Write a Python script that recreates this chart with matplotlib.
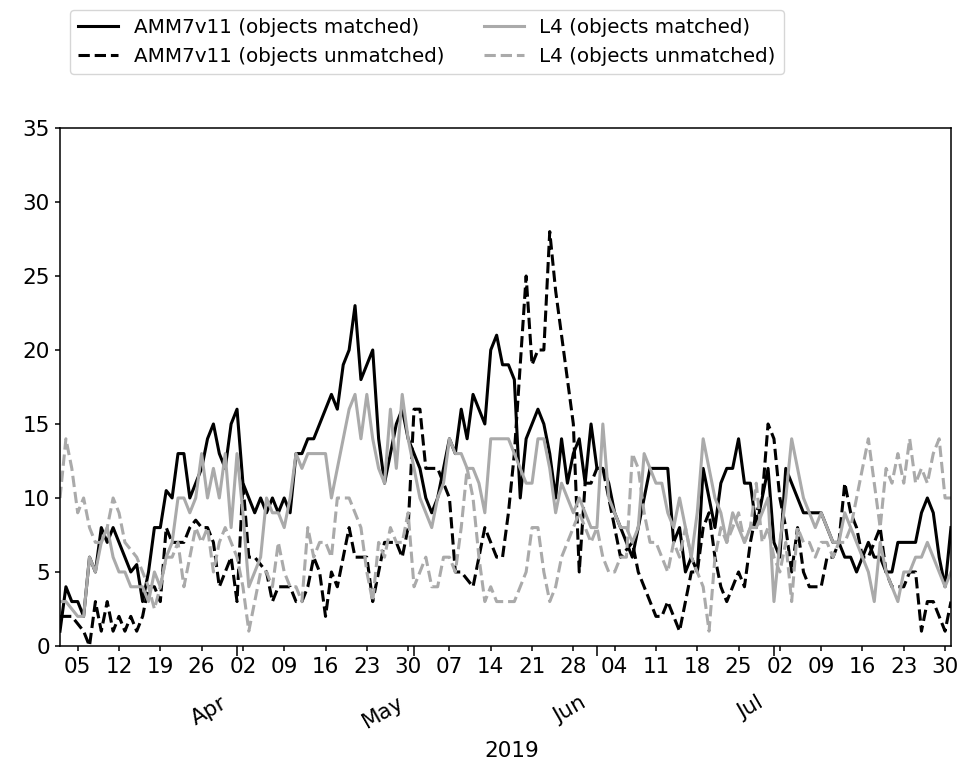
import matplotlib
matplotlib.use("Agg")
import matplotlib.pyplot as plt
import matplotlib.dates as mdates
import matplotlib.transforms as mtransforms
import numpy as np
import pandas as pd

# daily object counts, 2 Mar - 31 Jul 2019
dates = pd.date_range("2019-03-02", periods=152, freq="D")

amm_matched = [
    1, 4, 3, 3, 2, 6, 5, 8, 7, 8,
    7, 6, 5, 5.5, 3, 5, 8, 8, 10.5, 10,
    13, 13, 10, 11, 12, 14, 15, 13, 12, 15,
    16, 11, 10, 9, 10, 9, 10, 9, 10, 9,
    13, 13, 14, 14, 15, 16, 17, 16, 19, 20,
    23, 18, 19, 20, 14, 11, 13, 15, 16, 14,
    13, 12, 10, 9, 10, 12, 14, 13, 16, 14,
    17, 16, 15, 20, 21, 19, 19, 18, 10, 14,
    15, 16, 15, 13, 10, 14, 11, 13, 14, 11,
    15, 12, 12, 11, 9, 8, 7, 6, 8, 10,
    12, 12, 12, 12, 7, 8, 5, 6, 5, 12,
    10, 8, 11, 12, 12, 14, 11, 11, 8, 10,
    12, 7, 6, 12, 11, 10, 9, 9, 9, 9,
    8, 7, 7, 6, 6, 5, 6, 7, 6, 6,
    5, 5, 7, 7, 7, 7, 9, 10, 9, 6,
    4, 8,
]

amm_unmatched = [
    2, 2, 2, 1.5, 1, 0, 3, 1, 3, 1,
    2, 1, 2, 1, 2, 4, 4, 3, 8, 7,
    7, 7, 8, 8.5, 8, 8, 7, 4, 5, 6,
    3, 11, 6, 6, 5.5, 5, 3, 4, 4, 4,
    3, 3, 4, 6, 5, 2, 5, 4, 6, 8,
    6, 6, 6, 3, 5, 7, 7, 7, 6, 8,
    16, 16, 12, 12, 12, 11, 10, 5, 5, 4.5,
    4, 6, 8, 7, 6, 6, 9, 13, 19, 25,
    19, 20, 20, 28, 24, 21, 18, 15, 5, 11,
    11, 12, 12, 10, 8, 6, 6.5, 7, 5, 4,
    3, 2, 2, 3, 2, 1, 3, 5, 5, 8,
    9, 6, 4, 3, 4, 5, 4, 7, 9, 10,
    15, 14, 10, 8, 5, 8, 5, 4, 4, 4,
    6, 6, 7, 11, 9, 8, 6, 6, 7, 8,
    5, 4, 4, 4, 5, 5, 1, 3, 3, 2,
    1, 3,
]

l4_matched = [
    3, 3, 2.5, 2, 2, 6, 5, 7, 8, 6,
    5, 5, 4, 4, 4, 3, 5, 4, 6, 7,
    10, 10, 9, 10, 13, 10, 12, 10, 13, 8,
    13, 9, 4, 5, 6, 10, 9, 9, 8, 10,
    13, 12, 13, 13, 13, 13, 10, 12, 14, 16,
    17, 14, 17, 14, 12, 11, 16, 12, 17, 14,
    12, 10, 9, 8, 10, 11, 14, 13, 13, 12,
    12, 11, 9, 14, 14, 14, 14, 13, 12, 11,
    11, 14, 14, 12, 9, 11, 10, 9, 10, 9,
    8, 8, 15, 10, 9, 8, 8, 7, 8, 13,
    12, 11, 11, 9, 8, 10, 8, 6, 9, 14,
    12, 10, 9, 7, 9, 8, 7, 8, 8, 9,
    10, 3, 7, 10, 14, 12, 10, 9, 8, 9,
    8, 7, 7, 9, 8, 7, 6, 5, 3, 7,
    5, 4, 3, 5, 5, 6, 6, 7, 6, 5,
    4, 5,
]

l4_unmatched = [
    10, 14, 12, 9, 10, 8, 7, 7, 8, 10,
    9, 7, 6.5, 6, 5, 4, 2.5, 4, 6, 6,
    7, 4, 6, 8, 7, 8, 5, 7, 8, 7,
    6, 4, 1, 3, 5, 5, 4, 7, 5, 4,
    4, 3, 8, 6, 7, 7, 6, 10, 10, 10,
    9, 8, 5, 3, 7, 6, 8, 7, 7, 9,
    4, 5, 6, 4, 4, 6, 6, 5, 8, 12,
    10, 6, 3, 4, 3, 3, 3, 3, 4, 5,
    8, 8, 5, 3, 4, 6, 7, 8, 9, 8,
    7, 8, 6, 5, 5, 6, 6, 13, 12, 9,
    7, 7, 6, 5, 7, 6, 8, 6, 5, 4,
    1, 6, 8, 7, 8, 9, 7, 8, 11, 7,
    8, 6, 5, 7, 3, 8, 7, 7, 6, 7,
    7, 6, 7, 7, 8, 10, 12, 14, 11, 8,
    12, 11, 13, 11, 14, 11, 12, 11, 13, 14,
    10, 10,
]

grey = "#aaaaaa"
lw = 2.2

fig = plt.figure(figsize=(9.57, 7.67), dpi=100)
ax = fig.add_axes([0.0627, 0.1578, 0.931, 0.6753])

ax.plot(dates, amm_matched, color="k", lw=lw, label="AMM7v11 (objects matched)")
ax.plot(dates, amm_unmatched, color="k", lw=lw, ls="--", label="AMM7v11 (objects unmatched)")
ax.plot(dates, l4_matched, color=grey, lw=lw, label="L4 (objects matched)")
ax.plot(dates, l4_unmatched, color=grey, lw=lw, ls="--", label="L4 (objects unmatched)")

ax.set_xlim(dates[0], dates[-1])
ax.set_ylim(0, 35)
ax.set_yticks(np.arange(0, 36, 5))

ax.xaxis.set_major_locator(mdates.MonthLocator())
ax.xaxis.set_major_formatter(mdates.DateFormatter("%b"))
ax.xaxis.set_minor_locator(mdates.WeekdayLocator(byweekday=mdates.TU))
ax.xaxis.set_minor_formatter(mdates.DateFormatter("%d"))

ax.tick_params(axis="x", which="minor", length=3.8, width=1.1, pad=4.4, labelsize=15.5)
ax.tick_params(axis="x", which="major", length=7, width=1.1, pad=26.5, labelsize=15.5)
ax.tick_params(axis="y", length=3.8, width=1.1, labelsize=15.5)
for sp in ax.spines.values():
    sp.set_linewidth(1.1)

# month names slanted under the day numbers
shift = mtransforms.ScaledTranslation(-7 / 100, 0, fig.dpi_scale_trans)
for lab in ax.xaxis.get_majorticklabels():
    lab.set_rotation(30)
    lab.set_ha("right")
    lab.set_transform(lab.get_transform() + shift)

ax.set_xlabel("2019", fontsize=15.5)
ax.xaxis.set_label_coords(0.507, -0.183)

ax.legend(loc="upper left", bbox_to_anchor=(70 / 957, 1 - 10 / 767),
          bbox_transform=fig.transFigure, borderaxespad=0, ncol=2,
          fontsize=14.3, handlelength=2.0, columnspacing=2.0)

fig.savefig("out.png", dpi=100)
